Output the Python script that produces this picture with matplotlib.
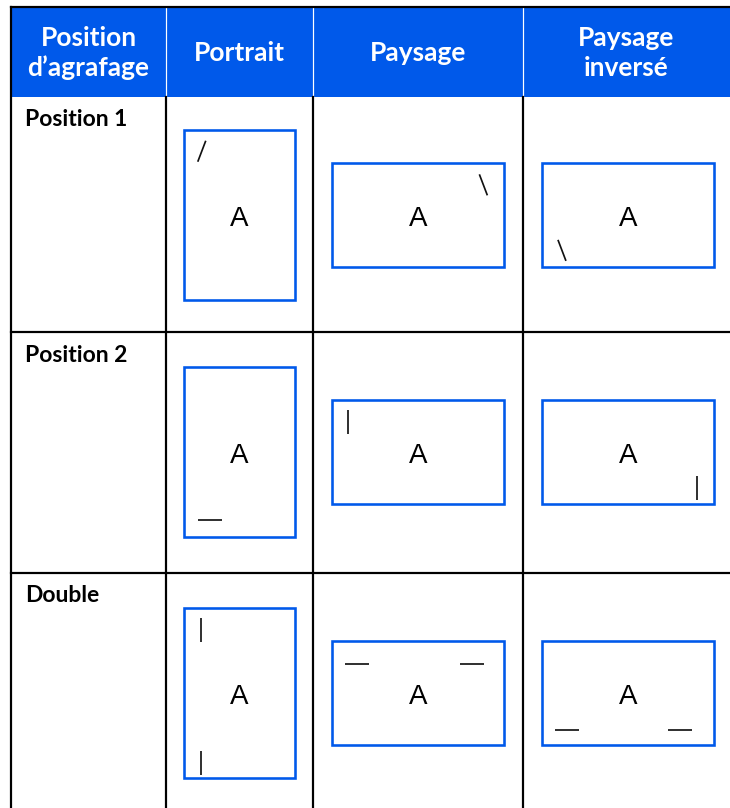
import numpy as np
import matplotlib.pyplot as plt
from matplotlib.patches import Rectangle

# table content
headers = ["Position\nd’agrafage", "Portrait", "Paysage", "Paysage\ninversé"]
row_labels = ["Position 1", "Position 2", "Double"]
orientations = ["portrait", "paysage", "paysage"]

# staple marks per row / column: (kind, rel x, rel y) inside the page box
marks = [
    [[("/", 0.16, 0.125)], [("\\", 0.88, 0.21)], [("\\", 0.116, 0.84)]],
    [[("-", 0.234, 0.90)], [("|", 0.093, 0.21)], [("|", 0.90, 0.85)]],
    [[("|", 0.153, 0.13), ("|", 0.153, 0.91)],
     [("-", 0.148, 0.22), ("-", 0.814, 0.22)],
     [("-", 0.145, 0.856), ("-", 0.805, 0.856)]],
]

# layout (pixels)
W, H = 730, 808
col_x = [11, 166, 313, 523, 730]
row_y = [7, 97, 332, 573, 808]
row_cy = [215, 452, 693]
box_size = {"portrait": (111, 170), "paysage": (172, 104)}
blue = "#0059EA"
px = 0.72  # 1 pixel in points at dpi 100

fig = plt.figure(figsize=(7.3, 8.08), dpi=100)
ax = fig.add_axes([0, 0, 1, 1])
ax.set_xlim(0, W)
ax.set_ylim(H, 0)
ax.axis("off")

# header band
ax.add_patch(Rectangle((col_x[0], row_y[0]), W - col_x[0], row_y[1] - row_y[0],
                       facecolor=blue, edgecolor="none"))
for x in col_x[1:4]:
    ax.plot([x, x], [row_y[0], row_y[1]], color="white", lw=1.2 * px)
for i, h in enumerate(headers):
    cx = (col_x[i] + col_x[i + 1]) / 2
    ax.text(cx, (row_y[0] + row_y[1]) / 2 + 1, h, ha="center", va="center",
            color="white", fontsize=19, fontweight="bold", family="Lato",
            linespacing=1.3)

# grid lines
ax.plot([col_x[0], W], [row_y[0], row_y[0]], color="black", lw=2.2 * px)
ax.plot([col_x[0], col_x[0]], [row_y[0], H], color="black", lw=2.2 * px)
for x in col_x[1:4]:
    ax.plot([x, x], [row_y[1], H], color="black", lw=2.2 * px)
for y in row_y[2:4]:
    ax.plot([col_x[0], W], [y, y], color="black", lw=2.2 * px)

# rows
for r, lab in enumerate(row_labels):
    ax.text(25, row_y[r + 1] + 23, lab, ha="left", va="center", color="black",
            fontsize=16.5, fontweight="bold", family="Lato")
    for c in range(3):
        bw, bh = box_size[orientations[c]]
        cx = (col_x[c + 1] + col_x[c + 2]) / 2
        if c == 2:
            cx += 1.5
        x0, y0 = cx - bw / 2, row_cy[r] - bh / 2
        ax.add_patch(Rectangle((x0, y0), bw, bh, fill=False, edgecolor=blue,
                               lw=2.6 * px))
        ax.text(cx, row_cy[r] + 4, "A", ha="center", va="center", fontsize=20,
                family="Liberation Sans", color="black")
        for kind, rx, ry in marks[r][c]:
            mx, my = x0 + rx * bw, y0 + ry * bh
            if kind == "/":
                xs, ys = [mx - 4, mx + 4], [my + 10.5, my - 10.5]
            elif kind == "\\":
                xs, ys = [mx - 4, mx + 4], [my - 10.5, my + 10.5]
            elif kind == "|":
                xs, ys = [mx, mx], [my - 12, my + 12]
            else:
                xs, ys = [mx - 12, mx + 12], [my, my]
            ax.plot(xs, ys, color="#111111", lw=1.7 * px, solid_capstyle="butt")

fig.savefig("out.png", dpi=100)
